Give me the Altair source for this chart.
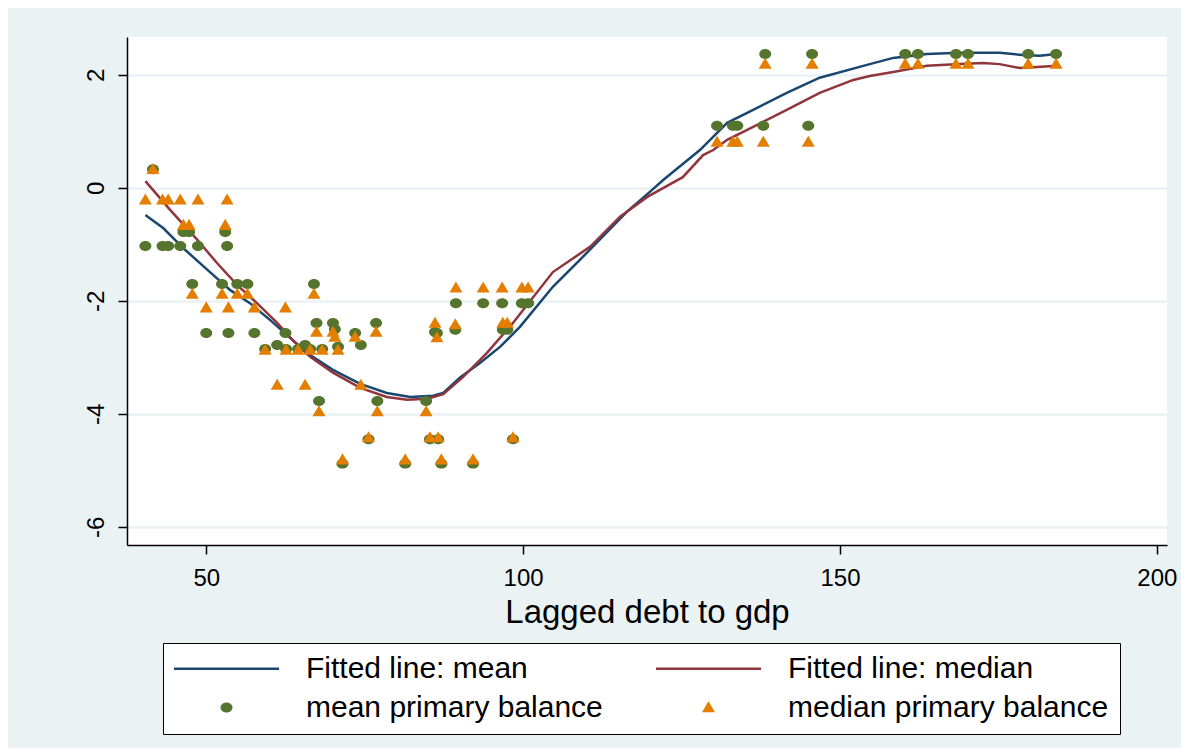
import altair as alt
import pandas as pd

# ---- data ----
debt = [40.4, 41.6, 43.1, 44.0, 45.9, 48.7, 53.3, 46.4, 47.3, 53.0,
        47.8, 52.5, 54.9, 56.5, 67.0, 50.0, 53.5, 57.6, 62.5, 67.4,
        70.0, 70.3, 73.5, 74.4, 76.8, 61.2, 65.6, 59.3, 62.6, 64.5,
        66.4, 68.3, 70.8, 67.8, 77.0, 84.7, 75.6, 85.3, 86.6, 98.4,
        71.5, 81.4, 87.1, 92.1, 89.4, 93.7, 96.7, 99.8, 100.8, 86.1,
        86.4, 89.3, 96.8, 97.5, 130.6, 133.1, 133.8, 137.9, 145.0, 138.2,
        145.6, 160.3, 162.3, 168.3, 170.2, 179.7, 184.1]
mean_pb = [-1.03, 0.33, -1.03, -1.03, -1.03, -1.03, -1.03, -0.78, -0.78, -0.78,
           -1.70, -1.70, -1.70, -1.70, -1.70, -2.57, -2.57, -2.57, -2.57, -2.39,
           -2.39, -2.50, -2.57, -2.78, -2.39, -2.78, -2.78, -2.85, -2.85, -2.85,
           -2.85, -2.85, -2.81, -3.77, -3.77, -3.77, -4.45, -4.45, -4.45, -4.45,
           -4.88, -4.88, -4.88, -4.88, -2.04, -2.04, -2.04, -2.04, -2.04, -2.55,
           -2.57, -2.51, -2.51, -2.51, 1.10, 1.10, 1.10, 1.10, 1.10, 2.37,
           2.37, 2.37, 2.37, 2.37, 2.37, 2.37, 2.37]
median_pb = [-0.21, 0.33, -0.21, -0.21, -0.21, -0.21, -0.21, -0.66, -0.66, -0.66,
             -1.88, -1.88, -1.88, -1.88, -1.88, -2.12, -2.12, -2.12, -2.12, -2.55,
             -2.55, -2.64, -2.64, -3.49, -2.55, -3.49, -3.49, -2.87, -2.87, -2.87,
             -2.87, -2.87, -2.87, -3.96, -3.96, -3.96, -4.42, -4.42, -4.42, -4.42,
             -4.81, -4.81, -4.81, -4.81, -1.77, -1.77, -1.77, -1.77, -1.77, -2.39,
             -2.65, -2.42, -2.39, -2.39, 0.81, 0.81, 0.81, 0.81, 0.81, 2.19,
             2.19, 2.19, 2.19, 2.19, 2.19, 2.19, 2.19]

fit_mean_x = [40.4, 43.2, 46.7, 50.2, 53.8, 56.9, 60.1, 63.2, 66.4, 70.0,
              74.3, 78.5, 82.2, 85.8, 87.4, 90.1, 93.2, 96.4, 99.5, 104.7,
              109.0, 116.4, 120.0, 122.1, 127.9, 132.2, 136.3, 141.6, 146.8, 154.7,
              158.4, 163.7, 168.9, 175.2, 178.9, 181.5, 184.2]
fit_mean_y = [-0.48, -0.71, -1.10, -1.45, -1.81, -2.04, -2.34, -2.65, -2.96, -3.22,
              -3.47, -3.63, -3.70, -3.68, -3.63, -3.35, -3.10, -2.81, -2.46, -1.75,
              -1.27, -0.42, -0.07, 0.14, 0.67, 1.15, 1.38, 1.68, 1.95, 2.19,
              2.30, 2.37, 2.39, 2.39, 2.35, 2.34, 2.37]
fit_median_x = [40.4, 44.3, 48.6, 51.7, 54.9, 58.0, 61.2, 63.6, 66.4, 70.0,
                74.3, 78.5, 81.7, 84.9, 87.4, 90.5, 94.3, 98.4, 104.7, 110.6,
                115.3, 119.6, 125.2, 128.4, 130.0, 132.2, 136.3, 141.6, 146.8, 152.1,
                154.7, 158.4, 163.7, 168.9, 172.6, 175.2, 178.4, 181.1, 184.2]
fit_median_y = [0.12, -0.39, -0.92, -1.33, -1.72, -2.04, -2.39, -2.69, -2.99, -3.27,
                -3.54, -3.70, -3.75, -3.73, -3.65, -3.35, -2.92, -2.39, -1.49, -1.04,
                -0.51, -0.16, 0.19, 0.58, 0.67, 0.85, 1.08, 1.38, 1.68, 1.91,
                1.98, 2.05, 2.16, 2.19, 2.21, 2.19, 2.12, 2.14, 2.16]

series_names = ["Fitted line: mean", "Fitted line: median",
                "mean primary balance", "median primary balance"]
series_colors = ["#1A476F", "#90353B", "#55752F", "#E37E00"]

x_ticks = [50, 100, 150, 200]
y_ticks = [-6, -4, -2, 0, 2]

# symbol shapes (unit box -1..1 is 105 px wide)
LINE_PATH = "M-1,-0.025H1V0.025H-1Z"
DOT_PATH = "M-0.114,0A0.114,0.095,0,1,1,0.114,0A0.114,0.095,0,1,1,-0.114,0Z"
TRI_PATH = "M0,-0.12L0.124,0.09L-0.124,0.09Z"
shape_range = [LINE_PATH, LINE_PATH, DOT_PATH, TRI_PATH]
SYM = 11025

FONT = "Liberation Sans"
BG = "#EAF2F3"

n = len(debt)
pts = pd.DataFrame({
    "debt": debt + debt,
    "balance": mean_pb + median_pb,
    "series": [series_names[2]] * n + [series_names[3]] * n,
    "ord": list(range(2 * n)),
})
fm = pd.DataFrame({"debt": fit_mean_x, "balance": fit_mean_y})
fd = pd.DataFrame({"debt": fit_median_x, "balance": fit_median_y})

xscale = alt.Scale(domain=[37.5, 201.6], nice=False, zero=False)
yscale = alt.Scale(domain=[-6.32, 2.67], nice=False, zero=False)

xaxis = alt.Axis(values=x_ticks, title="Lagged debt to gdp", grid=False,
                 domainColor="black", domainWidth=1.5, tickColor="black",
                 tickWidth=1.5, tickSize=9, labelFont=FONT, labelFontSize=24,
                 labelColor="black", labelPadding=12, titleFont=FONT,
                 titleFontSize=33, titleFontWeight="normal", titleColor="black",
                 titlePadding=6, labelExpr="'' + datum.value")
yaxis = alt.Axis(values=y_ticks, title=None, grid=True, gridColor=BG,
                 gridWidth=2.5, domainColor="black", domainWidth=1.5,
                 tickColor="black", tickWidth=1.5, tickSize=9, labelFont=FONT,
                 labelFontSize=24, labelColor="black", labelAngle=270,
                 labelAlign="center", labelBaseline="alphabetic",
                 labelPadding=15, labelExpr="'' + datum.value")

X = alt.X("debt:Q", scale=xscale, axis=xaxis)
Y = alt.Y("balance:Q", scale=yscale, axis=yaxis)

line_mean = alt.Chart(fm).mark_line(color=series_colors[0], strokeWidth=2.5).encode(
    x=X, y=Y, order="debt:Q")
line_median = alt.Chart(fd).mark_line(color=series_colors[1], strokeWidth=2.5).encode(
    x=alt.X("debt:Q", scale=xscale), y=alt.Y("balance:Q", scale=yscale), order="debt:Q")

legend = alt.Legend(title=None, orient="none", legendX=36, legendY=606,
                    direction="horizontal", columns=2, clipHeight=29,
                    symbolSize=SYM, symbolStrokeWidth=0,
                    symbolOpacity=1, labelOffset=27, columnPadding=53,
                    rowPadding=8, padding=11, strokeColor="black",
                    fillColor="white", labelFont=FONT, labelFontSize=30,
                    labelColor="black", labelLimit=600)

points = alt.Chart(pts).mark_point(filled=True, size=SYM, opacity=1).encode(
    x=alt.X("debt:Q", scale=xscale),
    y=alt.Y("balance:Q", scale=yscale),
    color=alt.Color("series:N", scale=alt.Scale(domain=series_names, range=series_colors),
                    legend=legend),
    shape=alt.Shape("series:N", scale=alt.Scale(domain=series_names, range=shape_range),
                    legend=legend),
    order="ord:Q",
)

chart = alt.layer(line_mean, line_median, points).properties(
    width=1040, height=508,
    autosize=alt.AutoSizeParams(type="none"),
    padding={"left": 119, "top": 29, "right": 14, "bottom": 203},
    background=BG,
).configure_view(fill="white", stroke=None)

chart.save("out.html", embed_options={"renderer": "svg", "actions": False})
